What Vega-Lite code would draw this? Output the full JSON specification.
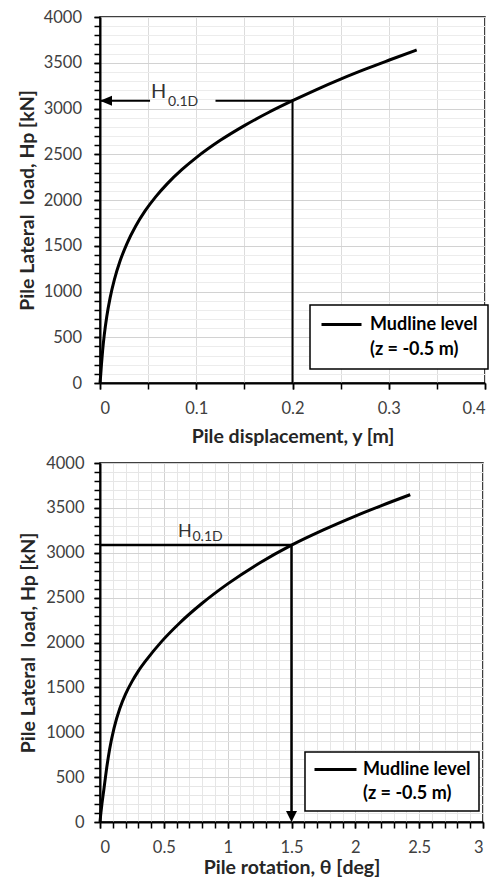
{
  "$schema": "https://vega.github.io/schema/vega-lite/v6.json",
  "padding": {"left": 16, "top": 8, "right": 5, "bottom": 2},
  "background": "white",
  "columns": 1,
  "align": "none",
  "spacing": 7,
  "resolve": {"scale": {"color": "independent"}, "legend": {"color": "independent"}},
  "datasets": {
    "curveTop": [
      {"disp": 0, "hp": 0, "series": "Mudline level"},
      {"disp": 0.0007, "hp": 83, "series": "Mudline level"},
      {"disp": 0.0015, "hp": 200, "series": "Mudline level"},
      {"disp": 0.0027, "hp": 350, "series": "Mudline level"},
      {"disp": 0.0045, "hp": 531, "series": "Mudline level"},
      {"disp": 0.007, "hp": 724, "series": "Mudline level"},
      {"disp": 0.0105, "hp": 930, "series": "Mudline level"},
      {"disp": 0.015, "hp": 1132, "series": "Mudline level"},
      {"disp": 0.021, "hp": 1338, "series": "Mudline level"},
      {"disp": 0.028, "hp": 1524, "series": "Mudline level"},
      {"disp": 0.037, "hp": 1713, "series": "Mudline level"},
      {"disp": 0.047, "hp": 1883, "series": "Mudline level"},
      {"disp": 0.058, "hp": 2037, "series": "Mudline level"},
      {"disp": 0.07, "hp": 2179, "series": "Mudline level"},
      {"disp": 0.085, "hp": 2331, "series": "Mudline level"},
      {"disp": 0.1, "hp": 2463, "series": "Mudline level"},
      {"disp": 0.125, "hp": 2652, "series": "Mudline level"},
      {"disp": 0.15, "hp": 2813, "series": "Mudline level"},
      {"disp": 0.175, "hp": 2956, "series": "Mudline level"},
      {"disp": 0.2, "hp": 3085, "series": "Mudline level"},
      {"disp": 0.225, "hp": 3207, "series": "Mudline level"},
      {"disp": 0.25, "hp": 3321, "series": "Mudline level"},
      {"disp": 0.275, "hp": 3427, "series": "Mudline level"},
      {"disp": 0.3, "hp": 3527, "series": "Mudline level"},
      {"disp": 0.329, "hp": 3640, "series": "Mudline level"}
    ],
    "curveBottom": [
      {"rot": 0, "hp": 0, "series": "Mudline level"},
      {"rot": 0.005, "hp": 75, "series": "Mudline level"},
      {"rot": 0.015, "hp": 200, "series": "Mudline level"},
      {"rot": 0.03, "hp": 360, "series": "Mudline level"},
      {"rot": 0.05, "hp": 578, "series": "Mudline level"},
      {"rot": 0.075, "hp": 809, "series": "Mudline level"},
      {"rot": 0.11, "hp": 1047, "series": "Mudline level"},
      {"rot": 0.155, "hp": 1265, "series": "Mudline level"},
      {"rot": 0.2, "hp": 1425, "series": "Mudline level"},
      {"rot": 0.25, "hp": 1564, "series": "Mudline level"},
      {"rot": 0.3, "hp": 1681, "series": "Mudline level"},
      {"rot": 0.37, "hp": 1818, "series": "Mudline level"},
      {"rot": 0.48, "hp": 2007, "series": "Mudline level"},
      {"rot": 0.62, "hp": 2212, "series": "Mudline level"},
      {"rot": 0.8, "hp": 2437, "series": "Mudline level"},
      {"rot": 1.0, "hp": 2653, "series": "Mudline level"},
      {"rot": 1.25, "hp": 2886, "series": "Mudline level"},
      {"rot": 1.5, "hp": 3085, "series": "Mudline level"},
      {"rot": 1.75, "hp": 3255, "series": "Mudline level"},
      {"rot": 2.0, "hp": 3409, "series": "Mudline level"},
      {"rot": 2.2, "hp": 3523, "series": "Mudline level"},
      {"rot": 2.43, "hp": 3647, "series": "Mudline level"}
    ]
  },
  "config": {
    "font": "Lato",
    "view": {"stroke": "black", "strokeWidth": 1.5},
    "axis": {
      "labelFont": "Lato", "labelFontSize": 16.5, "labelColor": "#404040",
      "titleFont": "Lato", "titleFontSize": 19.5, "titleFontWeight": "bold", "titleColor": "#262626",
      "tickColor": "black", "tickWidth": 1.5, "tickSize": 6,
      "domainColor": "black", "domainWidth": 2
    },
    "legend": {"strokeWidth": 1.5}
  },
  "concat": [
    {
      "width": 385,
      "height": 366,
      "resolve": {"axis": {"x": "independent", "y": "independent"}},
      "layer": [
        {
          "data": {"name": "curveTop"},
          "mark": {"type": "line", "strokeWidth": 3, "interpolate": "monotone"},
          "encoding": {
            "x": {"field": "disp", "type": "quantitative", "scale": {"domain": [0, 0.4], "nice": false},
              "axis": {"orient": "bottom", "values": [0, 0.05, 0.1, 0.15, 0.2, 0.25, 0.3, 0.35, 0.4], "labels": false, "domain": false, "title": null, "grid": true, "gridColor": "#dcdcdc"}},
            "y": {"field": "hp", "type": "quantitative", "scale": {"domain": [0, 4000], "nice": false},
              "axis": {"orient": "left", "values": [0,100,200,300,400,500,600,700,800,900,1000,1100,1200,1300,1400,1500,1600,1700,1800,1900,2000,2100,2200,2300,2400,2500,2600,2700,2800,2900,3000,3100,3200,3300,3400,3500,3600,3700,3800,3900,4000], "labels": false, "domain": false, "title": null, "grid": true, "gridColor": "#ececec"}},
            "color": {"field": "series", "type": "nominal",
              "scale": {"domain": ["Mudline level", "(z = -0.5 m)"], "range": ["black", "white"]},
              "legend": {"title": null, "orient": "none", "legendX": 210, "legendY": 288, "symbolType": "stroke", "symbolSize": 1600, "symbolStrokeWidth": 3, "clipHeight": 19, "rowPadding": 6, "padding": 10, "labelOffset": 7, "labelFont": "Lato", "labelFontSize": 18, "labelFontWeight": "bold", "labelColor": "black", "strokeColor": "black", "fillColor": "white", "labelLimit": 300}}
          }
        },
        {
          "data": {"values": [
            {"x1": 0, "x2": 0.052, "y1": 3085, "y2": 3085},
            {"x1": 0.12, "x2": 0.2, "y1": 3085, "y2": 3085},
            {"x1": 0.2, "x2": 0.2, "y1": 0, "y2": 3085}
          ]},
          "mark": {"type": "rule", "strokeWidth": 2, "color": "black"},
          "encoding": {
            "x": {"field": "x1", "type": "quantitative", "scale": {"domain": [0, 0.4], "nice": false},
              "axis": {"orient": "bottom", "values": [0, 0.1, 0.2, 0.3, 0.4], "format": "~g", "title": "Pile displacement, y [m]", "labelPadding": 11, "titlePadding": 11, "grid": true, "gridColor": "#dcdcdc"}},
            "x2": {"field": "x2"},
            "y": {"field": "y1", "type": "quantitative", "scale": {"domain": [0, 4000], "nice": false},
              "axis": {"orient": "left", "values": [0, 500, 1000, 1500, 2000, 2500, 3000, 3500, 4000], "format": "d", "title": "Pile Lateral\u00a0 load, Hp [kN]", "labelPadding": 12.5, "titlePadding": 6, "grid": true, "gridColor": "#d2d2d2"}},
            "y2": {"field": "y2"}
          }
        },
        {
          "data": {"values": [{"x": 0, "y": 3085}]},
          "mark": {"type": "point", "shape": "M0,0L2.4,-1L2.4,1Z", "size": 100, "filled": true, "color": "black", "opacity": 1},
          "encoding": {
            "x": {"field": "x", "type": "quantitative", "scale": {"domain": [0, 0.4], "nice": false}, "axis": null},
            "y": {"field": "y", "type": "quantitative", "scale": {"domain": [0, 4000], "nice": false}, "axis": null}
          }
        },
        {
          "data": {"values": [{"x": 0.053, "y": 3085, "t": "H"}]},
          "mark": {"type": "text", "align": "left", "baseline": "alphabetic", "dy": -3, "fontSize": 20, "font": "Lato", "color": "#333333"},
          "encoding": {
            "x": {"field": "x", "type": "quantitative", "scale": {"domain": [0, 0.4], "nice": false}, "axis": null},
            "y": {"field": "y", "type": "quantitative", "scale": {"domain": [0, 4000], "nice": false}, "axis": null},
            "text": {"field": "t"}
          }
        },
        {
          "data": {"values": [{"x": 0.053, "y": 3085, "t": "0.1D"}]},
          "mark": {"type": "text", "align": "left", "baseline": "alphabetic", "dx": 17, "dy": 5, "fontSize": 14, "font": "Lato", "color": "#333333"},
          "encoding": {
            "x": {"field": "x", "type": "quantitative", "scale": {"domain": [0, 0.4], "nice": false}, "axis": null},
            "y": {"field": "y", "type": "quantitative", "scale": {"domain": [0, 4000], "nice": false}, "axis": null},
            "text": {"field": "t"}
          }
        }
      ]
    },
    {
      "width": 383,
      "height": 359,
      "resolve": {"axis": {"x": "independent", "y": "independent"}},
      "layer": [
        {
          "data": {"name": "curveBottom"},
          "mark": {"type": "line", "strokeWidth": 3, "interpolate": "monotone"},
          "encoding": {
            "x": {"field": "rot", "type": "quantitative", "scale": {"domain": [0, 3], "nice": false},
              "axis": {"orient": "bottom", "values": [0,0.1,0.2,0.3,0.4,0.5,0.6,0.7,0.8,0.9,1,1.1,1.2,1.3,1.4,1.5,1.6,1.7,1.8,1.9,2,2.1,2.2,2.3,2.4,2.5,2.6,2.7,2.8,2.9,3], "labels": false, "domain": false, "title": null, "grid": true, "gridColor": "#e6e6e6"}},
            "y": {"field": "hp", "type": "quantitative", "scale": {"domain": [0, 4000], "nice": false},
              "axis": {"orient": "left", "values": [0,100,200,300,400,500,600,700,800,900,1000,1100,1200,1300,1400,1500,1600,1700,1800,1900,2000,2100,2200,2300,2400,2500,2600,2700,2800,2900,3000,3100,3200,3300,3400,3500,3600,3700,3800,3900,4000], "labels": false, "domain": false, "title": null, "grid": true, "gridColor": "#e6e6e6"}},
            "color": {"field": "series", "type": "nominal",
              "scale": {"domain": ["Mudline level", "(z = -0.5 m)"], "range": ["black", "white"]},
              "legend": {"title": null, "orient": "none", "legendX": 205, "legendY": 289, "symbolType": "stroke", "symbolSize": 1764, "symbolStrokeWidth": 3, "clipHeight": 19, "rowPadding": 5, "padding": 8, "labelOffset": 5, "labelFont": "Lato", "labelFontSize": 18, "labelFontWeight": "bold", "labelColor": "black", "strokeColor": "black", "fillColor": "white", "labelLimit": 300}}
          }
        },
        {
          "data": {"values": [
            {"x1": 0, "x2": 1.5, "y1": 3085, "y2": 3085},
            {"x1": 1.5, "x2": 1.5, "y1": 100, "y2": 3085}
          ]},
          "mark": {"type": "rule", "strokeWidth": 2.5, "color": "black"},
          "encoding": {
            "x": {"field": "x1", "type": "quantitative", "scale": {"domain": [0, 3], "nice": false},
              "axis": {"orient": "bottom", "values": [0, 0.5, 1, 1.5, 2, 2.5, 3], "format": "~g", "title": "Pile rotation, θ [deg]", "labelPadding": 11, "titlePadding": 3, "grid": true, "gridColor": "#d2d2d2"}},
            "x2": {"field": "x2"},
            "y": {"field": "y1", "type": "quantitative", "scale": {"domain": [0, 4000], "nice": false},
              "axis": {"orient": "left", "values": [0, 500, 1000, 1500, 2000, 2500, 3000, 3500, 4000], "format": "d", "title": "Pile Lateral\u00a0 load, Hp [kN]", "labelPadding": 10, "titlePadding": 7, "grid": true, "gridColor": "#d2d2d2"}},
            "y2": {"field": "y2"}
          }
        },
        {
          "data": {"values": [{"x": 1.5, "y": 0}]},
          "mark": {"type": "point", "shape": "M0,0L-1.1,-2.2L1.1,-2.2Z", "size": 100, "filled": true, "color": "black", "opacity": 1},
          "encoding": {
            "x": {"field": "x", "type": "quantitative", "scale": {"domain": [0, 3], "nice": false}, "axis": null},
            "y": {"field": "y", "type": "quantitative", "scale": {"domain": [0, 4000], "nice": false}, "axis": null}
          }
        },
        {
          "data": {"values": [{"x": 0.611, "y": 3085, "t": "H"}]},
          "mark": {"type": "text", "align": "left", "baseline": "alphabetic", "dy": -8, "fontSize": 18, "font": "Lato", "color": "#333333"},
          "encoding": {
            "x": {"field": "x", "type": "quantitative", "scale": {"domain": [0, 3], "nice": false}, "axis": null},
            "y": {"field": "y", "type": "quantitative", "scale": {"domain": [0, 4000], "nice": false}, "axis": null},
            "text": {"field": "t"}
          }
        },
        {
          "data": {"values": [{"x": 0.611, "y": 3085, "t": "0.1D"}]},
          "mark": {"type": "text", "align": "left", "baseline": "alphabetic", "dx": 14.5, "dy": -4, "fontSize": 14, "font": "Lato", "color": "#333333"},
          "encoding": {
            "x": {"field": "x", "type": "quantitative", "scale": {"domain": [0, 3], "nice": false}, "axis": null},
            "y": {"field": "y", "type": "quantitative", "scale": {"domain": [0, 4000], "nice": false}, "axis": null},
            "text": {"field": "t"}
          }
        }
      ]
    }
  ]
}
